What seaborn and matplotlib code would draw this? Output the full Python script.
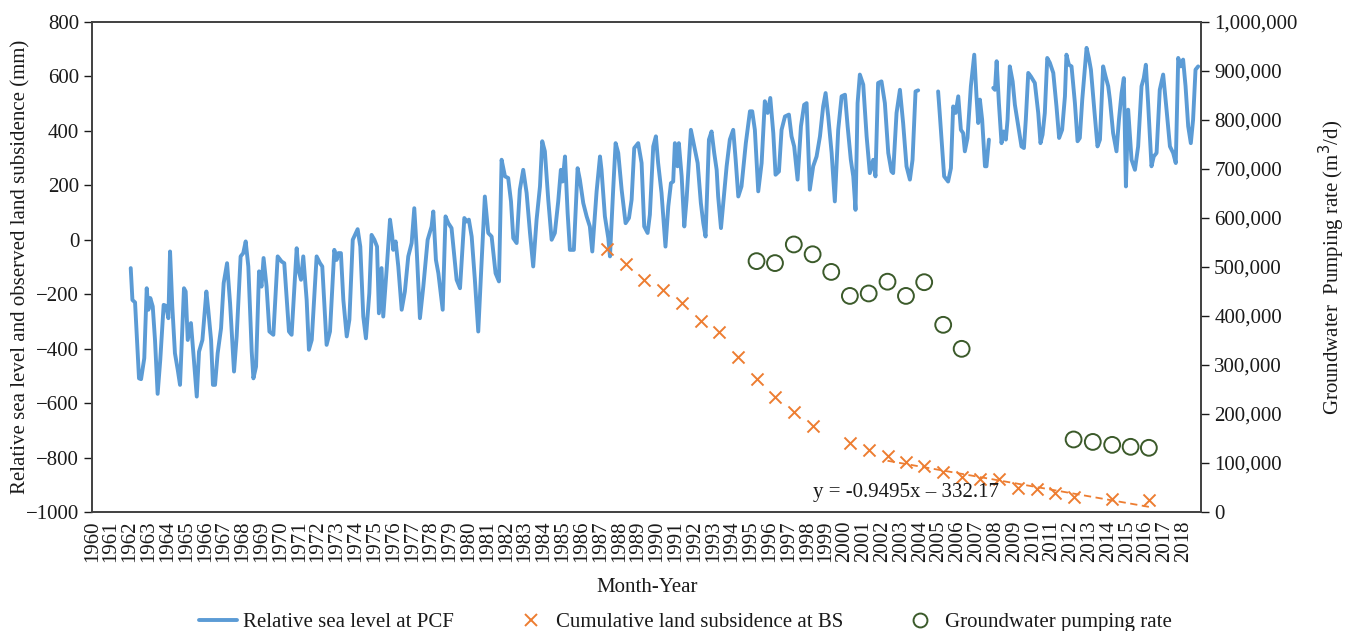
import numpy as np
import pandas as pd
import matplotlib
matplotlib.use("Agg")
import matplotlib.pyplot as plt
import seaborn as sns
from matplotlib.lines import Line2D
from matplotlib.ticker import FuncFormatter

# ---------------- data ----------------
year_ticks = list(range(1960, 2019))

rsl_year = [
    1962.04, 1962.13, 1962.27, 1962.48, 1962.59, 1962.76, 1962.89, 1962.98, 1963.08, 1963.21,
    1963.33, 1963.47, 1963.61, 1963.79, 1963.92, 1964.04, 1964.13, 1964.25, 1964.39, 1964.54,
    1964.66, 1964.87, 1964.96, 1965.07, 1965.24, 1965.37, 1965.55, 1965.67, 1965.85, 1966.06,
    1966.16, 1966.31, 1966.41, 1966.52, 1966.66, 1966.84, 1966.98, 1967.16, 1967.32, 1967.53,
    1967.67, 1967.88, 1968.02, 1968.15, 1968.29, 1968.47, 1968.56, 1968.70, 1968.86, 1968.99,
    1969.10, 1969.26, 1969.41, 1969.62, 1969.85, 1970.06, 1970.20, 1970.45, 1970.59, 1970.86,
    1970.95, 1971.09, 1971.21, 1971.39, 1971.51, 1971.66, 1971.92, 1972.10, 1972.22, 1972.45,
    1972.63, 1972.86, 1972.98, 1973.07, 1973.21, 1973.34, 1973.52, 1973.66, 1973.84, 1973.96,
    1974.10, 1974.24, 1974.40, 1974.54, 1974.72, 1974.84, 1974.99, 1975.13, 1975.23, 1975.37,
    1975.46, 1975.64, 1975.82, 1975.94, 1975.99, 1976.12, 1976.26, 1976.44, 1976.61, 1976.79,
    1976.97, 1977.11, 1977.23, 1977.41, 1977.59, 1977.82, 1978.03, 1978.12, 1978.26, 1978.39,
    1978.62, 1978.77, 1978.92, 1979.09, 1979.36, 1979.54, 1979.77, 1979.89, 1980.01, 1980.16,
    1980.33, 1980.51, 1980.65, 1980.86, 1981.04, 1981.22, 1981.43, 1981.61, 1981.75, 1981.93,
    1982.10, 1982.25, 1982.37, 1982.55, 1982.72, 1982.90, 1983.08, 1983.26, 1983.43, 1983.61,
    1983.79, 1983.91, 1984.05, 1984.23, 1984.41, 1984.58, 1984.76, 1984.90, 1984.99, 1985.12,
    1985.26, 1985.38, 1985.59, 1985.79, 1985.91, 1986.09, 1986.27, 1986.44, 1986.57, 1986.80,
    1986.98, 1987.06, 1987.24, 1987.42, 1987.51, 1987.68, 1987.81, 1987.95, 1988.13, 1988.34,
    1988.52, 1988.66, 1988.80, 1989.01, 1989.19, 1989.33, 1989.51, 1989.63, 1989.81, 1989.95,
    1990.07, 1990.25, 1990.46, 1990.61, 1990.75, 1990.87, 1990.96, 1991.10, 1991.17, 1991.32,
    1991.46, 1991.58, 1991.81, 1991.99, 1992.17, 1992.34, 1992.47, 1992.59, 1992.77, 1992.91,
    1993.05, 1993.18, 1993.26, 1993.41, 1993.58, 1993.71, 1993.88, 1994.06, 1994.19, 1994.33,
    1994.50, 1994.73, 1994.95, 1995.07, 1995.21, 1995.39, 1995.57, 1995.74, 1995.89, 1996.03,
    1996.19, 1996.31, 1996.49, 1996.63, 1996.81, 1997.02, 1997.16, 1997.30, 1997.48, 1997.66,
    1997.83, 1997.96, 1998.13, 1998.31, 1998.49, 1998.67, 1998.84, 1998.97, 1999.11, 1999.29,
    1999.46, 1999.64, 1999.82, 2000.00, 2000.14, 2000.31, 2000.44, 2000.56, 2000.67, 2000.79,
    2000.97, 2001.15, 2001.32, 2001.50, 2001.62, 2001.76, 2001.94, 2002.12, 2002.30, 2002.47,
    2002.56, 2002.74, 2002.92, 2003.09, 2003.27, 2003.45, 2003.59, 2003.75, 2003.89, 2004.40,
    2004.95, 2005.04, 2005.27, 2005.48, 2005.63, 2005.75, 2005.88, 2006.02, 2006.16, 2006.28,
    2006.37, 2006.51, 2006.69, 2006.87, 2006.99, 2007.08, 2007.17, 2007.29, 2007.44, 2007.52,
    2007.65, 2007.77, 2007.88, 2007.97, 2008.06, 2008.18, 2008.32, 2008.43, 2008.55, 2008.64,
    2008.76, 2008.91, 2009.03, 2009.21, 2009.38, 2009.51, 2009.61, 2009.74, 2009.88, 2010.09,
    2010.27, 2010.39, 2010.50, 2010.62, 2010.75, 2010.89, 2011.07, 2011.24, 2011.38, 2011.54,
    2011.69, 2011.77, 2011.90, 2012.04, 2012.22, 2012.36, 2012.48, 2012.61, 2012.84, 2012.96,
    2013.07, 2013.25, 2013.42, 2013.55, 2013.72, 2013.85, 2013.99, 2014.08, 2014.25, 2014.43,
    2014.56, 2014.70, 2014.82, 2014.93, 2015.05, 2015.23, 2015.41, 2015.58, 2015.76, 2015.88,
    2015.99, 2016.11, 2016.29, 2016.41, 2016.56, 2016.73, 2016.91, 2017.09, 2017.27, 2017.44,
    2017.58, 2017.71, 2017.85, 2017.97, 2018.10, 2018.24, 2018.38, 2018.50, 2018.63, 2018.77,
]
nan = float("nan")
rsl_mm = [
    -104, -221, -230, -509, -512, -435, -178, -257, -214, -245,
    -368, -566, -441, -239, -243, -288, -43, -245, -417, -478,
    -533, -178, -190, -368, -306, -417, -576, -411, -368, -190,
    -257, -368, -533, -533, -417, -325, -159, -86, -233, -484,
    -355, -61, -49, -6, -98, -411, -509, -466, -116, -172,
    -67, -172, -337, -349, -61, -80, -86, -337, -349, -31,
    -110, -147, -61, -221, -404, -368, -61, -86, -98, -386,
    -337, -37, -74, -49, -49, -221, -355, -294, 0, 18,
    39, -25, -282, -362, -196, 18, 0, -25, -270, -104,
    -282, -110, 74, 12, -37, -6, -98, -257, -190, -61,
    -12, 116, -25, -288, -172, 0, 49, 104, -74, -123,
    -257, 86, 61, 43, -147, -178, 80, 67, 74, 12,
    -147, -337, -135, 159, 25, 12, -123, -153, 294, 233,
    227, 141, 6, -12, 184, 257, 172, 25, -98, 74,
    196, 362, 325, 147, 0, 25, 141, 257, 214, 306,
    98, -37, -37, 263, 221, 135, 86, 49, -43, 178,
    306, 257, 86, 6, -61, 184, 355, 319, 184, 61,
    80, 147, 337, 355, 282, 49, 25, 92, 343, 380,
    282, 172, -25, 123, 208, 214, 355, 270, 355, 233,
    49, 147, 404, 343, 282, 135, 61, 12, 368, 398,
    319, 257, 159, 43, 172, 270, 368, 404, 294, 159,
    196, 355, 472, 472, 404, 178, 282, 509, 466, 521,
    392, 239, 251, 404, 453, 460, 380, 343, 221, 417,
    496, 502, 184, 270, 306, 380, 490, 539, 453, 319,
    141, 404, 527, 533, 417, 294, 233, 110, 502, 607,
    570, 380, 245, 294, 233, 576, 582, 502, 319, 251,
    245, 466, 551, 429, 270, 221, 294, 545, 549, nan,
    545, 460, 233, 214, 263, 490, 466, 527, 404, 392,
    325, 374, 564, 680, 527, 429, 515, 441, 270, 270,
    368, nan, 558, 551, 656, 502, 355, 398, 368, 441,
    637, 582, 496, 417, 343, 337, 441, 613, 600, 576,
    466, 355, 386, 466, 668, 650, 613, 490, 374, 404,
    527, 680, 643, 637, 502, 362, 374, 515, 705, 668,
    625, 478, 343, 368, 637, 600, 564, 515, 392, 325,
    441, 539, 594, 196, 478, 294, 257, 343, 564, 594,
    643, 502, 270, 306, 319, 551, 607, 478, 343, 319,
    282, 668, 637, 662, 564, 417, 355, 441, 625, 637,
]

sub_year = [1987.35, 1988.34, 1989.34, 1990.34, 1991.34, 1992.34, 1993.32, 1994.32,
            1995.30, 1996.28, 1997.28, 1998.28, 2000.26, 2001.26, 2002.26, 2003.24,
            2004.21, 2005.22, 2006.20, 2007.19, 2008.19, 2009.20, 2010.18, 2011.17,
            2012.15, 2014.20, 2016.15]
sub_mm = [-35, -90, -149, -186, -233, -297, -340, -429,
          -510, -576, -631, -684, -745, -772, -794, -815,
          -831, -854, -870, -880, -878, -911, -914, -929,
          -946, -953, -956]
trend_start_year = 2002

pump_year = [1995.30, 1996.28, 1997.28, 1998.28, 1999.27, 2000.26, 2001.26, 2002.26,
             2003.24, 2004.21, 2005.22, 2006.20, 2012.15, 2013.17, 2014.20, 2015.18, 2016.15]
pump_rate = [512000, 508000, 546000, 526000, 490000, 441000, 446000, 470000,
             441000, 469000, 382000, 333000, 148000, 143000, 137000, 133000, 131000]

labels = ["Relative sea level at PCF", "Cumulative land subsidence at BS",
          "Groundwater pumping rate"]
equation = "y = -0.9495x \u2013 332.17"

# ---------------- style ----------------
BLUE = "#5B9BD5"
ORANGE = "#ED7D31"
GREEN = "#3B5A2A"
TXT = "#1a1a1a"
SPINE = "#404040"
FS = 15

sns.set_theme(style="ticks")
plt.rcParams["font.family"] = ["Liberation Serif", "DejaVu Serif"]
plt.rcParams["text.color"] = TXT
plt.rcParams["axes.labelcolor"] = TXT
plt.rcParams["xtick.color"] = TXT
plt.rcParams["ytick.color"] = TXT

fig = plt.figure(figsize=(13.52, 6.31), dpi=100)
ax = fig.add_axes([0.0683, 0.1886, 0.8200, 0.7765])
ax2 = ax.twinx()

# sea level line (gaps kept as separate segments)
rsl = pd.DataFrame({"year": rsl_year, "mm": rsl_mm})
rsl["seg"] = rsl["mm"].isna().cumsum()
rsl = rsl.dropna()
sns.lineplot(data=rsl, x="year", y="mm", units="seg", estimator=None, sort=False,
             color=BLUE, lw=2.8, ax=ax, legend=False)

# subsidence markers
sns.scatterplot(x=sub_year, y=sub_mm, marker="x", color=ORANGE, s=75, linewidth=1.4,
                ax=ax, legend=False, zorder=3)

# linear trend on later subsidence
sy = np.array(sub_year)
sm = np.array(sub_mm)
mask = sy >= trend_start_year
sns.regplot(x=sy[mask], y=sm[mask], scatter=False, ci=None, truncate=True, ax=ax,
            line_kws=dict(color=ORANGE, lw=1.3, ls=(0, (4, 2.5))))

# pumping rate circles
sns.scatterplot(x=pump_year, y=pump_rate, ax=ax2, marker="o", s=130,
                facecolor="none", edgecolor=GREEN, linewidth=1.4, legend=False)

# axes
ax.set_xlim(1960, 2018.92)
ax.set_ylim(-1000, 800)
ax2.set_ylim(0, 1000000)
ax.set_xticks(year_ticks)
ax.set_xticklabels([str(y) for y in year_ticks], rotation=90, fontsize=FS)
ax.set_yticks(list(range(-1000, 801, 200)))
ax.set_yticklabels([f"{v}".replace("-", "\u2212") for v in range(-1000, 801, 200)], fontsize=FS)
ax2.set_yticks(list(range(0, 1000001, 100000)))
ax2.yaxis.set_major_formatter(FuncFormatter(lambda v, p: f"{int(v):,}"))
ax2.tick_params(axis="y", labelsize=FS, direction="out", length=6, width=1, colors=TXT)
ax.tick_params(axis="y", direction="out", length=6, width=1)
ax.tick_params(axis="x", length=0, pad=6)

ax.set_xlabel("Month-Year", fontsize=FS)
ax.xaxis.set_label_coords(0.5, -0.135)
ax.set_ylabel("Relative sea level and observed land subsidence (mm)", fontsize=FS)
ax.yaxis.set_label_coords(-0.056, 0.5)
ax2.set_ylabel("Groundwater  Pumping rate (m$^3$/d)", fontsize=FS, labelpad=14)

for a in (ax, ax2):
    for sp in a.spines.values():
        sp.set_visible(True)
        sp.set_color(SPINE)
        sp.set_linewidth(1.2)

ax.text(2003.25, -930, equation, fontsize=FS, ha="center", va="center", color=TXT)

handles = [
    Line2D([], [], color=BLUE, lw=2.8),
    Line2D([], [], color=ORANGE, marker="x", ls="none", markersize=8.5, mew=1.4),
    Line2D([], [], color=GREEN, marker="o", ls="none", markersize=10, mfc="none", mew=1.4),
]
fig.legend(handles, labels, loc="lower center", bbox_to_anchor=(0.507, -0.022), ncol=3,
           frameon=False, fontsize=FS, columnspacing=2.8, handlelength=1.8,
           handletextpad=0.3, borderaxespad=0.2)

fig.savefig("out.png", dpi=100)
